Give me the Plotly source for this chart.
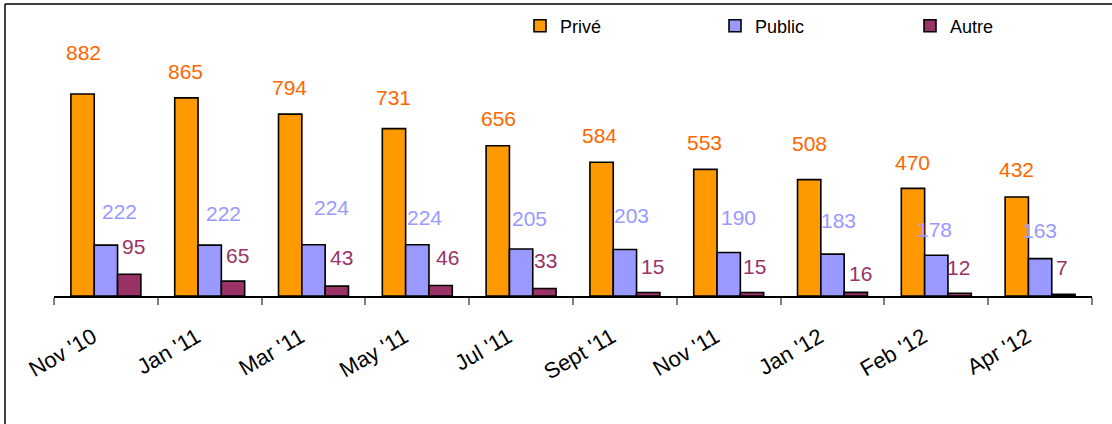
import plotly.graph_objects as go

# ---- data ----
categories = ["Nov '10", "Jan '11", "Mar '11", "May '11", "Jul '11",
              "Sept '11", "Nov '11", "Jan '12", "Feb '12", "Apr '12"]
prive = [882, 865, 794, 731, 656, 584, 553, 508, 470, 432]
public = [222, 222, 224, 224, 205, 203, 190, 183, 178, 163]
autre = [95, 65, 43, 46, 33, 15, 15, 16, 12, 7]

# ---- label nudges (pixels, style only) ----
prive_dx = [-22, -24, -24, -24, -23, -25, -24, -23, -24, -24]
prive_dy = [42, 26, 27, 31, 27, 27, 27, 36, 26, 28]
public_dx = [14, 14, 18, 7, 8, 7, 10, 6, -2, -1]
public_dy = [34, 32, 37, 27, 31, 34, 35, 34, 26, 28]
autre_dx = [28, 28, 28, 30, 24, 28, 26, 28, 22, 22]
autre_dy = [28, 26, 29, 28, 28, 26, 26, 19, 26, 27]

FONT = "Arial, Liberation Sans, sans-serif"
series = [
    ("Privé", prive, "#FF9900", "#FF6600", prive_dx, prive_dy),
    ("Public", public, "#9999FF", "#9999FF", public_dx, public_dy),
    ("Autre", autre, "#993366", "#993366", autre_dx, autre_dy),
]

fig = go.Figure()
annotations = []
for name, vals, col, lcol, dxs, dys in series:
    fig.add_trace(go.Bar(
        name=name, x=categories, y=vals,
        marker=dict(color=col, line=dict(color="#000000", width=1.6)),
        hoverinfo="x+y",
    ))
    for c, v, dx, dy in zip(categories, vals, dxs, dys):
        annotations.append(dict(
            x=c, y=v, xref="x", yref="y", text=str(v), showarrow=False,
            xshift=dx, yshift=dy, xanchor="center", yanchor="middle",
            font=dict(family=FONT, size=21, color=lcol),
        ))

L, R, T, B = 54, 20, 50, 128
W, H = 1112, 424
pw, ph = W - L - R, H - T - B

def px_x(px):
    return (px - L) / pw

def px_y(py):
    return (H - B - py) / ph

shapes = [
    dict(type="line", xref="paper", yref="paper", x0=px_x(5), x1=px_x(1112),
         y0=px_y(4), y1=px_y(4), line=dict(color="#000000", width=1.5)),
    dict(type="line", xref="paper", yref="paper", x0=px_x(5), x1=px_x(5),
         y0=px_y(4), y1=px_y(424), line=dict(color="#000000", width=1.5)),
]

fig.update_layout(
    width=W, height=H,
    margin=dict(l=L, r=R, t=T, b=B, pad=0, autoexpand=False),
    paper_bgcolor="#FFFFFF", plot_bgcolor="#FFFFFF",
    barmode="group", bargap=0.326, bargroupgap=0,
    font=dict(family=FONT, size=20, color="#000000"),
    showlegend=True,
    legend=dict(
        orientation="h", xref="container", yref="container",
        x=520 / W, y=1 - 26 / H, xanchor="left", yanchor="middle",
        entrywidth=150, entrywidthmode="pixels",
        font=dict(family=FONT, size=18, color="#000000"),
        bgcolor="rgba(0,0,0,0)", itemwidth=30,
    ),
    xaxis=dict(
        type="category", showgrid=False, zeroline=False, automargin=False,
        showline=True, linecolor="#000000", linewidth=1.5,
        ticks="outside", tickson="boundaries", ticklen=7, tickcolor="#808080", tickwidth=1.5,
        tickangle=-30, tickfont=dict(family=FONT, size=22, color="#000000"),
        ticklabelstandoff=18, ticklabelshift=-13,
    ),
    yaxis=dict(range=[0, ph / 0.229], visible=False, showgrid=False, zeroline=False),
    annotations=annotations,
    shapes=shapes,
)

fig.write_html("out.html", config={"displayModeBar": False},
               post_script="document.body.style.margin='0';")
